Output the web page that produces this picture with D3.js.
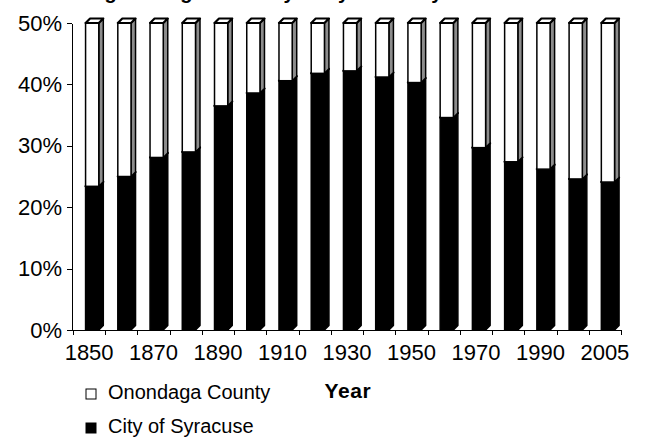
<!DOCTYPE html>
<html>
<head>
<meta charset="utf-8">
<script src="https://cdn.jsdelivr.net/npm/d3@7"></script>
<style>
  body { margin: 0; background: #fff; }
  svg { display: block; font-family: "Liberation Sans", Arial, sans-serif; }
  .axis path, .axis line { stroke: #000; stroke-width: 1; shape-rendering: crispEdges; }
  .axis text { font-size: 22px; fill: #000; font-family: "Liberation Sans", Arial, sans-serif; }
</style>
</head>
<body>
<svg id="chart" width="648" height="441"></svg>
<script>
const years = ["1850", "1860", "1870", "1880", "1890", "1900", "1910", "1920", "1930",
  "1940", "1950", "1960", "1970", "1980", "1990", "2000", "2005"];
const shownYears = ["1850", "1870", "1890", "1910", "1930", "1950", "1970", "1990", "2005"];
const cityShare = [23.4, 25.0, 28.1, 29.0, 36.5, 38.6, 40.6, 41.8, 42.2,
  41.2, 40.3, 34.6, 29.7, 27.4, 26.2, 24.6, 24.1];
const countyShare = [26.6, 25.0, 21.9, 21.0, 13.5, 11.4, 9.4, 8.2, 7.8,
  8.8, 9.7, 15.4, 20.3, 22.6, 23.8, 25.4, 25.9];
const yTicks = [0, 10, 20, 30, 40, 50];
const seriesNames = ["Onondaga County", "City of Syracuse"];

const svg = d3.select("#chart");
const margin = { left: 73, right: 27, top: 23, bottom: 111 };
const width = 648, height = 441;

const x = d3.scaleBand().domain(years).range([margin.left, width - margin.right]).padding(0);
const y = d3.scaleLinear().domain([0, 50]).range([height - margin.bottom, margin.top]);
const bw = x.bandwidth();
const depthX = bw * 0.14, depthY = 4.5;

// title, cut off at the top edge as in the source (only descenders show)
svg.append("text")
  .attr("x", 255).attr("y", -1.5)
  .attr("text-anchor", "middle")
  .style("font-size", "20px").style("font-weight", "bold")
  .text("Percentage Living in the City of Syracuse by Year");

// stacked data
const stacked = years.map((yr, i) => ({
  year: yr,
  segs: [
    { key: "city", y0: 0, y1: cityShare[i] },
    { key: "county", y0: cityShare[i], y1: cityShare[i] + countyShare[i] }
  ]
}));

const fills = { city: "#000", county: "#fff" };
const sideFills = { city: "#000", county: "#8c8c8c" };

const bars = svg.append("g").selectAll("g").data(stacked).join("g");

bars.each(function (d) {
  const gBar = d3.select(this);
  const x0 = x(d.year) + bw * 0.39;
  const x1 = x0 + bw * 0.41;
  d.segs.forEach(s => {
    const yt = y(s.y1), yb = y(s.y0);
    // side face
    gBar.append("path")
      .attr("d", `M${x1},${yb}L${x1 + depthX},${yb - depthY}L${x1 + depthX},${yt - depthY}L${x1},${yt}Z`)
      .attr("fill", sideFills[s.key]).attr("stroke", "#000").attr("stroke-width", 1.5)
      .attr("stroke-linejoin", "round");
    // front face
    gBar.append("rect")
      .attr("x", x0).attr("y", yt).attr("width", x1 - x0).attr("height", yb - yt)
      .attr("fill", fills[s.key]).attr("stroke", "#000").attr("stroke-width", 1.5);
    // top face
    gBar.append("path")
      .attr("d", `M${x0},${yt}L${x0 + depthX},${yt - depthY}L${x1 + depthX},${yt - depthY}L${x1},${yt}Z`)
      .attr("fill", fills[s.key]).attr("stroke", "#000").attr("stroke-width", 2.2)
      .attr("stroke-linejoin", "round");
  });
});

// y axis
svg.append("g").attr("class", "axis")
  .attr("transform", `translate(${margin.left - 1},0)`)
  .call(d3.axisLeft(y).tickValues(yTicks).tickSize(5).tickSizeOuter(0).tickPadding(5)
    .tickFormat(d => d + "%"));

// x axis: boundary ticks
const xb = d3.scaleLinear().domain([0, years.length]).range(x.range());
svg.append("g").attr("class", "axis")
  .attr("transform", `translate(0,${y(0)})`)
  .call(d3.axisBottom(xb).tickValues(d3.range(years.length + 1)).tickSize(5).tickSizeOuter(0)
    .tickFormat(""));

// x axis labels, every other category
svg.append("g").attr("class", "axis")
  .attr("transform", `translate(0,${y(0)})`)
  .call(d3.axisBottom(x).tickValues(shownYears).tickSize(0).tickPadding(14))
  .call(g => g.select(".domain").remove());

// axis title
svg.append("text")
  .attr("x", 348).attr("y", 398)
  .attr("text-anchor", "middle")
  .style("font-size", "21px").style("font-weight", "bold").style("letter-spacing", "0.6px")
  .text("Year");

// legend
const legend = svg.append("g").attr("transform", "translate(86,389)");
seriesNames.forEach((name, i) => {
  const row = legend.append("g").attr("transform", `translate(0,${i * 34})`);
  row.append("rect").attr("width", 10).attr("height", 10)
    .attr("fill", i === 0 ? "#fff" : "#000").attr("stroke", "#000").attr("stroke-width", 1);
  row.append("text").attr("x", 22).attr("y", 10)
    .style("font-size", "20px").text(name);
});
</script>
</body>
</html>
